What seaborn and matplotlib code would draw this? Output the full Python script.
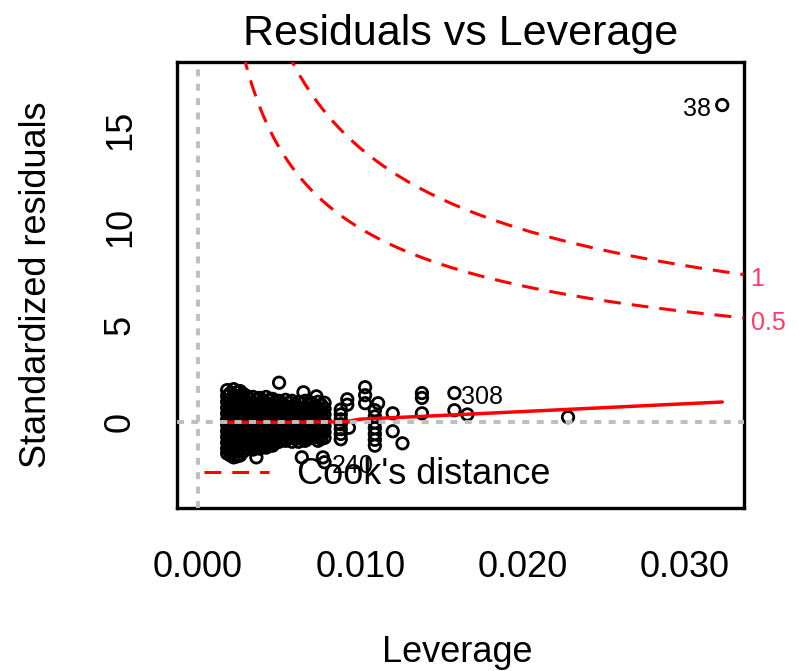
import numpy as np
import pandas as pd
import matplotlib
matplotlib.use("Agg")
import matplotlib.pyplot as plt
from matplotlib.lines import Line2D
import seaborn as sns

# Dense cluster of low-leverage observations: one leverage value per column
cluster_leverage = [0.0018, 0.0020, 0.0022, 0.0024, 0.0026, 0.0028, 0.0030, 0.0032,
                    0.0034, 0.0036, 0.0038, 0.0040, 0.0042, 0.0044, 0.0046, 0.0048,
                    0.0050, 0.0052, 0.0054, 0.0056, 0.0058, 0.0060, 0.0062, 0.0064,
                    0.0066, 0.0068, 0.0070, 0.0072, 0.0074, 0.0076, 0.0078]
cluster_residuals = [
    [1.65, 1.35, 1.05, 0.75, 0.45, 0.15, -0.15, -0.45, -0.75, -1.05, -1.35, -1.6],
    [1.5, 1.2, 0.9, 0.6, 0.3, 0.0, -0.3, -0.6, -0.9, -1.2, -1.5, -1.7],
    [1.7, 1.4, 1.1, 0.8, 0.5, 0.2, -0.1, -0.4, -0.7, -1.0, -1.3, -1.55, -1.8],
    [1.55, 1.25, 0.95, 0.65, 0.35, 0.05, -0.25, -0.55, -0.85, -1.15, -1.45, -1.75],
    [1.6, 1.3, 1.0, 0.7, 0.4, 0.1, -0.2, -0.5, -0.8, -1.1, -1.4, -1.7],
    [1.45, 1.2, 0.9, 0.6, 0.3, 0.0, -0.3, -0.6, -0.9, -1.2, -1.5],
    [1.35, 1.05, 0.75, 0.45, 0.15, -0.15, -0.45, -0.75, -1.05, -1.35],
    [1.2, 0.9, 0.6, 0.3, 0.0, -0.3, -0.6, -0.9, -1.2],
    [1.3, 1.0, 0.7, 0.4, 0.1, -0.2, -0.5, -0.8, -1.1, -1.4],
    [1.15, 0.85, 0.55, 0.25, -0.05, -0.35, -0.65, -0.95, -1.25],
    [1.25, 0.95, 0.65, 0.35, 0.05, -0.25, -0.55, -0.85, -1.15, -1.35],
    [1.1, 0.8, 0.5, 0.2, -0.1, -0.4, -0.7, -1.0, -1.25],
    [1.3, 1.0, 0.7, 0.4, 0.1, -0.2, -0.5, -0.8, -1.1, -1.3],
    [1.15, 0.85, 0.55, 0.25, -0.05, -0.35, -0.65, -0.95, -1.2],
    [1.2, 0.9, 0.6, 0.3, 0.0, -0.3, -0.6, -0.9, -1.2],
    [1.0, 0.7, 0.4, 0.1, -0.2, -0.5, -0.8, -1.05],
    [1.1, 0.8, 0.5, 0.2, -0.1, -0.4, -0.7, -1.0],
    [0.95, 0.65, 0.35, 0.05, -0.25, -0.55, -0.85],
    [1.15, 0.85, 0.55, 0.25, -0.05, -0.35, -0.65, -0.95],
    [1.0, 0.7, 0.4, 0.1, -0.2, -0.5, -0.8],
    [1.1, 0.8, 0.5, 0.2, -0.1, -0.4, -0.7, -1.0],
    [0.9, 0.6, 0.3, 0.0, -0.3, -0.6, -0.85],
    [1.05, 0.75, 0.45, 0.15, -0.15, -0.45, -0.75, -1.0],
    [0.95, 0.65, 0.35, 0.05, -0.25, -0.55, -0.85],
    [1.1, 0.8, 0.5, 0.2, -0.1, -0.4, -0.7, -0.95],
    [0.9, 0.6, 0.3, 0.0, -0.3, -0.6, -0.85],
    [1.0, 0.7, 0.4, 0.1, -0.2, -0.5, -0.8],
    [0.85, 0.55, 0.25, -0.05, -0.35, -0.65],
    [1.05, 0.75, 0.45, 0.15, -0.15, -0.45, -0.75, -0.95],
    [0.9, 0.6, 0.3, 0.0, -0.3, -0.6, -0.85],
    [1.0, 0.7, 0.4, 0.1, -0.2, -0.5, -0.8],
]

# Scattered observations outside the cluster
extra_leverage = [0.0050, 0.0065, 0.0073, 0.0036, 0.0064, 0.0077,
                  0.0088, 0.0088, 0.0088, 0.0088, 0.0088, 0.0088, 0.0088,
                  0.0092, 0.0092, 0.0093,
                  0.0103, 0.0103, 0.0103, 0.0111,
                  0.0109, 0.0109, 0.0109, 0.0109, 0.0109, 0.0109, 0.0109,
                  0.0120, 0.0120, 0.0126,
                  0.0138, 0.0138, 0.0138,
                  0.0158, 0.0166, 0.0228]
extra_residuals = [2.03, 1.54, 1.33, -1.8, -1.8, -1.8,
                   0.65, 0.4, 0.15, -0.1, -0.35, -0.6, -0.87,
                   1.18, 0.9, -0.28,
                   1.8, 1.39, 0.98, 0.98,
                   0.62, 0.3, 0.0, -0.3, -0.6, -0.9, -1.2,
                   0.46, -0.46, -1.08,
                   1.5, 1.25, 0.46,
                   0.62, 0.4, 0.26]

# Observations with the largest Cook's distance
flagged_ids = ["38", "308", "240"]
flagged_leverage = [0.0323, 0.0158, 0.0078]
flagged_residuals = [16.28, 1.50, -2.05]

# Lowess smoother of residuals against leverage
smooth_leverage = [0.0017, 0.0050, 0.0090, 0.0100, 0.0140, 0.0180, 0.0220, 0.0260, 0.0300, 0.0323]
smooth_residuals = [0.0, 0.0, 0.02, 0.16, 0.31, 0.47, 0.63, 0.79, 0.95, 1.04]

# Cook's distance contour levels and number of model parameters
cook_levels = [0.5, 1.0]
n_params = 2

x_ticks = [0.000, 0.005, 0.010, 0.015, 0.020, 0.025, 0.030]
x_tick_labels = ["0.000", "", "0.010", "", "0.020", "", "0.030"]
y_ticks = [0, 5, 10, 15]
y_tick_labels = ["0", "5", "10", "15"]
x_limits = (-0.00126, 0.03362)
y_limits = (-4.40, 18.49)

# ---- assemble the observations ----
rows = []
for lev, col in zip(cluster_leverage, cluster_residuals):
    rows += [(lev, r) for r in col]
rows += list(zip(extra_leverage, extra_residuals))
rows += list(zip(flagged_leverage, flagged_residuals))
obs = pd.DataFrame(rows, columns=["leverage", "residual"])
smooth = pd.DataFrame({"leverage": smooth_leverage, "residual": smooth_residuals})

sns.set_theme(style="white")
plt.rcParams["font.family"] = ["Liberation Sans", "DejaVu Sans"]

fig = plt.figure(figsize=(7.98, 6.71), dpi=100)
ax = fig.add_axes([0.2224, 0.2429, 0.7095, 0.6647])

# points
sns.scatterplot(data=obs, x="leverage", y="residual", marker="o", s=68,
                facecolor="none", edgecolor="black", linewidth=2.0,
                ax=ax, zorder=3, legend=False)

# smoother
sns.lineplot(data=smooth, x="leverage", y="residual", color="red", lw=2.5,
             sort=False, estimator=None, ax=ax, zorder=4)

# reference lines at zero
ax.axhline(0, color="#BEBEBE", lw=2.8, ls=(0, (1.8, 1.9)), zorder=5)
ax.axvline(0, color="#BEBEBE", lw=2.8, ls=(0, (1.8, 1.9)), zorder=5)

# Cook's distance contours
h_min = min(min(obs["leverage"]), max(obs["leverage"]) / 100)
hh = np.linspace(h_min, x_limits[1], 101)
for level in cook_levels:
    bound = np.sqrt(level * n_params * (1 - hh) / hh)
    for sign in (1, -1):
        sns.lineplot(x=hh, y=sign * bound, color="red", lw=2.2,
                     linestyle=(0, (5.5, 3.6)), sort=False, estimator=None,
                     ax=ax, zorder=4)

ax.set_xlim(*x_limits)
ax.set_ylim(*y_limits)
ax.set_xticks(x_ticks, x_tick_labels)
ax.set_yticks(y_ticks, y_tick_labels)
ax.tick_params(axis="both", direction="out", length=16.5, width=2.2,
               color="black", labelsize=26, labelcolor="black")
ax.tick_params(axis="x", pad=14)
ax.tick_params(axis="y", pad=12, labelrotation=90)
for t in ax.get_yticklabels():
    t.set_va("center")
for side in ax.spines.values():
    side.set_visible(True)
    side.set_color("black")
    side.set_linewidth(2.4)

ax.set_title("Residuals vs Leverage", fontsize=31, pad=12.5, color="black")
ax.set_xlabel("Leverage", fontsize=26, color="black")
ax.xaxis.label.set_va("baseline")
ax.xaxis.set_label_coords(0.494, -0.345)
ax.set_ylabel("Standardized residuals", fontsize=26, color="black")
ax.yaxis.label.set_va("baseline")
ax.yaxis.set_label_coords(-0.232, 0.5)

# legend for the contours
handle = Line2D([], [], color="red", lw=2.2, ls=(0, (5.5, 3.6)))
ax.legend(handles=[handle], labels=["Cook's distance"], loc="lower left",
          frameon=False, fontsize=26, handlelength=1.8, handletextpad=0.8,
          borderpad=0, borderaxespad=0, bbox_to_anchor=(0.046, 0.035),
          labelcolor="black")

# contour levels marked just outside the right edge
x_edge = min(0.99, x_limits[1])
y_mult = np.sqrt(n_params * (1 - x_edge) / x_edge)
for level in cook_levels:
    ax.annotate(f"{level:g}", xy=(1.0, np.sqrt(level) * y_mult),
                xycoords=("axes fraction", "data"), xytext=(5, -3.5),
                textcoords="offset points", ha="left", va="center",
                fontsize=18, color="#FF3A66", annotation_clip=False)

# identify the flagged observations
mid_leverage = (min(obs["leverage"]) + max(obs["leverage"])) / 2
for name, lev, res in zip(flagged_ids, flagged_leverage, flagged_residuals):
    left = lev > mid_leverage
    ax.annotate(name, (lev, res), xytext=(-8 if left else 5, -3),
                textcoords="offset points", ha="right" if left else "left",
                va="center", fontsize=18, color="black", zorder=6)

fig.savefig("out.png", dpi=100)
